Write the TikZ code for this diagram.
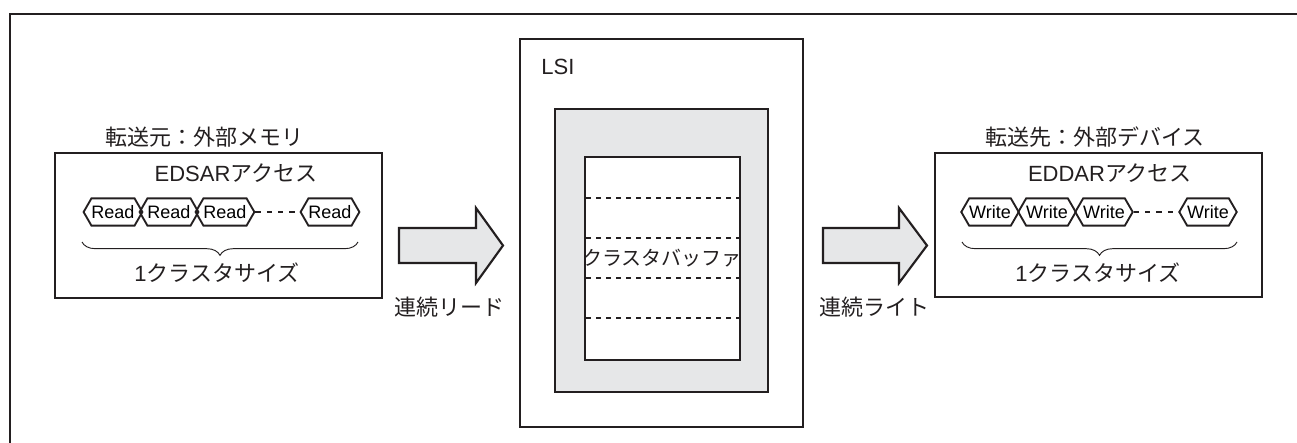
\documentclass[tikz,border=0pt]{standalone}
\usepackage{fontspec}
\setmainfont{Liberation Sans}
\newfontfamily\jp{Noto Sans CJK JP}
\usepackage{tikz}
\usetikzlibrary{shapes.symbols,decorations.pathreplacing}
\definecolor{ink}{HTML}{231F20}
\definecolor{shade}{HTML}{E6E7E8}

\begin{document}
\begin{tikzpicture}[x=0.75pt,y=-0.75pt,line width=1.6pt,font=\fontsize{16.5}{19}\selectfont,
  hexbox/.style={draw=ink,line width=1.4pt,shape=signal,signal to=west and east,signal pointer angle=120,
    minimum width=42pt,minimum height=20.5pt,inner sep=0pt,font=\fontsize{13.5}{15}\selectfont},
  hexlink/.style={draw=ink,line width=.8pt,dash pattern=on 4pt off 4.5pt},
  sizebrace/.style={draw=ink,line width=.7pt,decorate,decoration={brace,mirror,amplitude=10pt}},
  rowline/.style={draw=ink,line width=.8pt,dash pattern=on 4pt off 3.5pt},
  bigarrow/.style={draw=ink,fill=shade,line width=1.6pt,line join=miter}]
\useasboundingbox (0,0) rectangle (1297,443);
% frame
\draw[ink,line width=2pt] (10,443) -- (10,14) -- (1297,14);
% source side
\draw[ink] (55,153) rectangle (382,298);
\node[ink] (srctitle) at (204,137) {\jp 転送元：外部メモリ};
\node[ink] (srcacc) at (236,173) {EDSAR{\jp アクセス}};
\foreach \x [count=\i] in {113,169,225,330}
  \node[hexbox] (rd\i) at (\x,212) {Read};
\draw[hexlink] (rd3.east) -- (rd4.west);
\draw[sizebrace] (82,242) -- (358,242);
\node[ink] (srcsize) at (217,273) {1{\jp クラスタサイズ}};
% read arrow
\draw[bigarrow] (399,228) -- (476,228) -- (476,208) -- (503,245.5) -- (476,283) -- (476,263) -- (399,263) -- cycle;
\node[ink] (rdlabel) at (449,307) {\jp 連続リード};
% LSI
\draw[ink] (520,39) rectangle (803,427);
\node[ink] (lsi) at (558,67) {LSI};
\draw[ink,fill=shade] (555,109) rectangle (768,392);
\draw[ink,fill=white] (585,157) rectangle (740,360);
\foreach \y in {198,238,278,318}
  \draw[rowline] (586,\y) -- (739,\y);
\node[ink,font=\fontsize{15}{17}\selectfont] (buf) at (662,258) {\jp クラスタバッファ};
% write arrow
\draw[bigarrow] (823,228) -- (899,228) -- (899,208) -- (927,245.5) -- (899,283) -- (899,263) -- (823,263) -- cycle;
\node[ink] (wrlabel) at (874,307) {\jp 連続ライト};
% destination side
\draw[ink] (935,153) rectangle (1262,297);
\node[ink] (dsttitle) at (1095,137) {\jp 転送先：外部デバイス};
\node[ink] (dstacc) at (1110,173) {EDDAR{\jp アクセス}};
\foreach \x [count=\i] in {990,1047,1104,1208}
  \node[hexbox] (wr\i) at (\x,212) {Write};
\draw[hexlink] (wr3.east) -- (wr4.west);
\draw[sizebrace] (962,242) -- (1237,242);
\node[ink] (dstsize) at (1098,273) {1{\jp クラスタサイズ}};
\end{tikzpicture}
\end{document}
